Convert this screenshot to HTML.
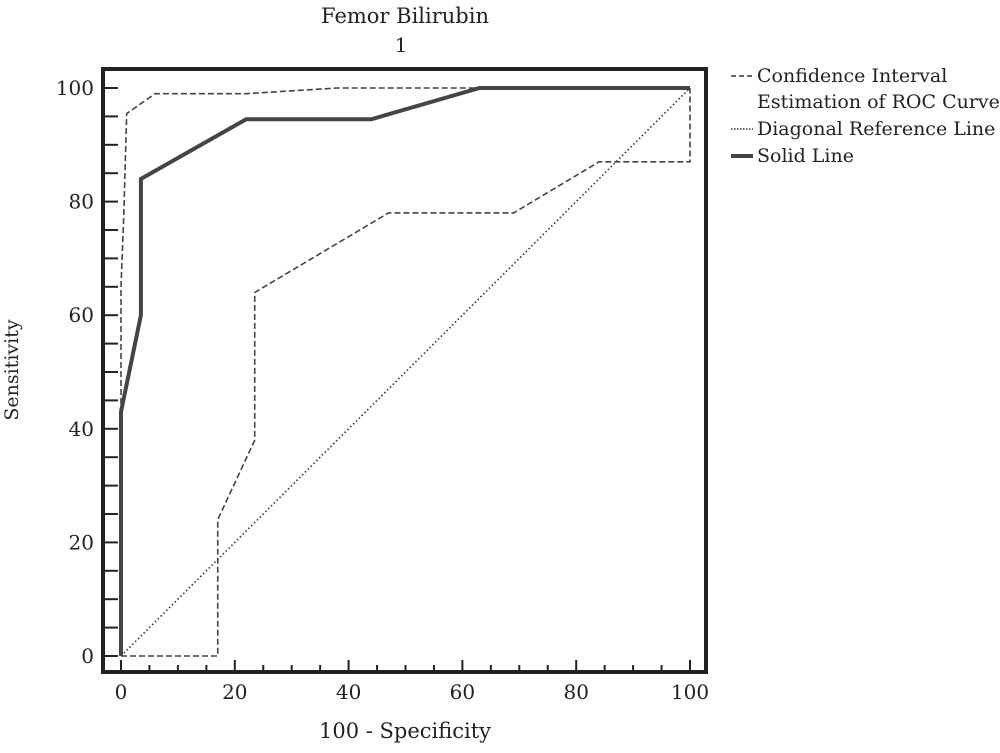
<!DOCTYPE html>
<html><head><meta charset="utf-8"><style>
body{margin:0;background:#fff;}
svg text{font-family:"DejaVu Serif","Liberation Serif",serif;fill:#222;}
</style></head><body>
<svg width="1000" height="748" viewBox="0 0 1000 748">
<text x="405" y="23" font-size="21" text-anchor="middle">Femor Bilirubin</text>
<text x="401" y="52" font-size="20" text-anchor="middle">1</text>
<rect x="103" y="69" width="603" height="603" fill="none" stroke="#222" stroke-width="4"/>
<g id="ticks"></g>
<g id="series"></g>
<text x="18" y="370" font-size="19" text-anchor="middle" transform="rotate(-90 18 370)">Sensitivity</text>
<text x="405" y="738" font-size="21" text-anchor="middle">100 - Specificity</text>
<g>
<line x1="731" y1="76" x2="753" y2="76" stroke="#333" stroke-width="1.5" stroke-dasharray="5,3"/>
<text x="757" y="82" font-size="19">Confidence Interval</text>
<text x="757" y="108" font-size="19">Estimation of ROC Curve</text>
<line x1="731" y1="129" x2="753" y2="129" stroke="#333" stroke-width="1.5" stroke-dasharray="1.5,1.5"/>
<text x="757" y="135" font-size="19">Diagonal Reference Line</text>
<line x1="731" y1="156" x2="753" y2="156" stroke="#444" stroke-width="4"/>
<text x="757" y="162" font-size="19">Solid Line</text>
</g>
</svg>
<script>
const xTicks=[0,20,40,60,80,100];
const yTicks=[0,20,40,60,80,100];
const rocX=[0,0,3.5,3.5,22,44,63,100];
const rocY=[0,43,60,84,94.5,94.5,100,100];
const upperX=[0,0,0.5,1,6,22,38,100];
const upperY=[0,65,78,95.5,99,99,100,100];
const lowerX=[0,17,17,23.5,23.5,47,69,84,100,100];
const lowerY=[0,0,24,38,64,78,78,87,87,100];
const diagX=[0,100];
const diagY=[0,100];
const sx=v=>121+v*5.69;
const sy=v=>656-v*5.68;
const NS="http://www.w3.org/2000/svg";
const tg=document.getElementById('ticks');
for(let v=0;v<=100;v+=5){
  const maj=v%20===0;
  const t=document.createElementNS(NS,'line');
  t.setAttribute('x1',sx(v));t.setAttribute('x2',sx(v));
  t.setAttribute('y1',671);t.setAttribute('y2',maj?660:665);
  t.setAttribute('stroke','#222');t.setAttribute('stroke-width',2);
  
  
  tg.appendChild(t);
  const u=document.createElementNS(NS,'line');
  u.setAttribute('y1',sy(v));u.setAttribute('y2',sy(v));
  u.setAttribute('x1',104);u.setAttribute('x2',118);
  u.setAttribute('stroke','#222');u.setAttribute('stroke-width',2);
  
  
  tg.appendChild(u);
}
xTicks.forEach(v=>{
  const t=document.createElementNS(NS,'text');
  t.setAttribute('x',sx(v));t.setAttribute('y',699);t.setAttribute('font-size',20);t.setAttribute('text-anchor','middle');
  t.textContent=v;
  
  
  tg.appendChild(t);
});
yTicks.forEach(v=>{
  const t=document.createElementNS(NS,'text');
  t.setAttribute('x',94);t.setAttribute('y',sy(v)+7);t.setAttribute('font-size',20);t.setAttribute('text-anchor','end');
  t.textContent=v;
  
  
  tg.appendChild(t);
});
const sg=document.getElementById('series');
function poly(xs,ys,name,w,dash,col){
  const p=document.createElementNS(NS,'polyline');
  p.setAttribute('points',xs.map((x,i)=>sx(x)+','+sy(ys[i])).join(' '));
  p.setAttribute('fill','none');p.setAttribute('stroke',col);p.setAttribute('stroke-width',w);
  if(dash)p.setAttribute('stroke-dasharray',dash);
  
  
  sg.appendChild(p);
}
poly(diagX,diagY,'diagonal-reference-line',1.6,'1.5,2.5','#333');
poly(upperX,upperY,'ci-upper-line',1.6,'6,3','#444');
poly(lowerX,lowerY,'ci-lower-line',1.6,'6,3','#444');
poly(rocX,rocY,'roc-curve',4,null,'#444');
</script>
</body></html>
